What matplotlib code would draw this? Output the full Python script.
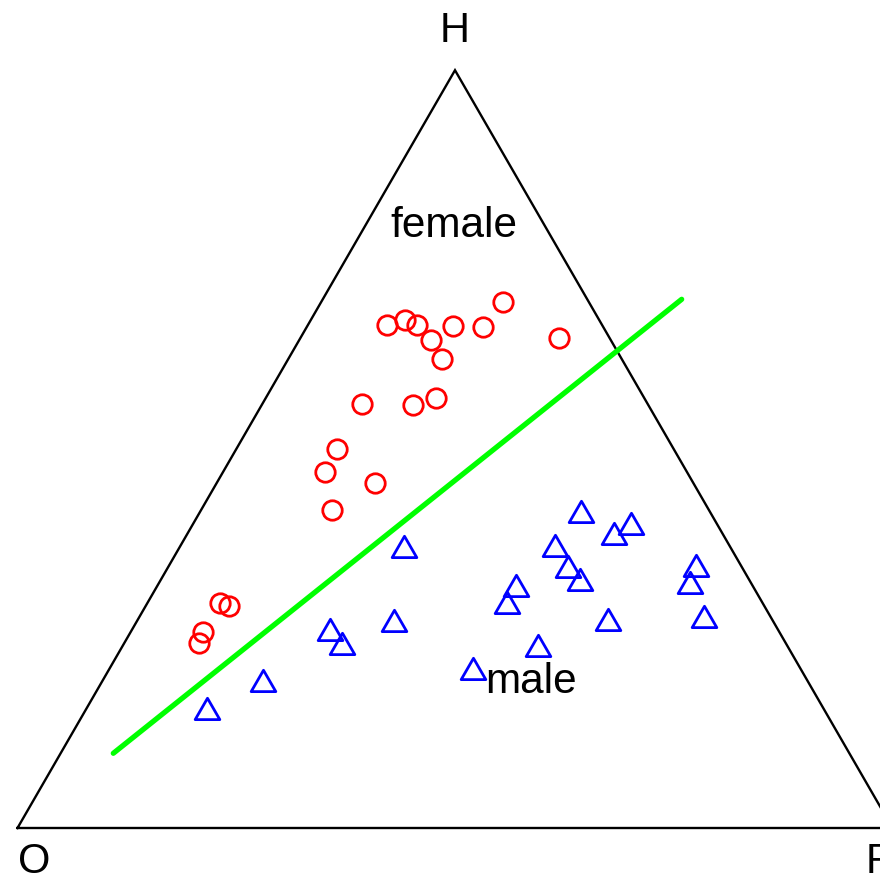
import numpy as np
import matplotlib
matplotlib.use("Agg")
import matplotlib.pyplot as plt
from matplotlib.path import Path

plt.rcParams['font.family'] = ['Liberation Sans', 'DejaVu Sans']

# compositions (O, F, H) for each specimen
female_O = [0.2462, 0.2219, 0.2112, 0.1711, 0.1379, 0.0985, 0.0580, 0.2058, 0.2056, 0.3262,
            0.2690, 0.2376, 0.3852, 0.4137, 0.3639, 0.4309, 0.6200, 0.6114, 0.6582, 0.6704]
female_F = [0.0900, 0.1077, 0.1250, 0.1660, 0.2013, 0.2074, 0.2958, 0.1502, 0.1751, 0.1143,
            0.1724, 0.1949, 0.1147, 0.1165, 0.1804, 0.1498, 0.0827, 0.0956, 0.0828, 0.0859]
female_H = [0.6638, 0.6704, 0.6638, 0.6629, 0.6608, 0.6941, 0.6462, 0.6440, 0.6193, 0.5595,
            0.5586, 0.5675, 0.5001, 0.4698, 0.4557, 0.4193, 0.2973, 0.2930, 0.2590, 0.2437]

male_O = [0.7070, 0.6248, 0.3742, 0.5143, 0.5098, 0.4351, 0.3766, 0.1501, 0.1003, 0.1263,
          0.2015, 0.2000, 0.1955, 0.2724, 0.2941, 0.1898, 0.2867, 0.0535, 0.0714, 0.0777]
male_F = [0.1393, 0.1852, 0.2584, 0.2284, 0.2507, 0.2963, 0.4169, 0.4375, 0.5025, 0.4897,
          0.4307, 0.4591, 0.4814, 0.4126, 0.4123, 0.5401, 0.4771, 0.6052, 0.6086, 0.6477]
male_H = [0.1537, 0.1900, 0.3674, 0.2573, 0.2395, 0.2686, 0.2065, 0.4124, 0.3972, 0.3840,
          0.3678, 0.3409, 0.3231, 0.3150, 0.2936, 0.2701, 0.2362, 0.3413, 0.3200, 0.2745]

# discriminant line end points (O, F, H)
line_O = [0.8412, -0.1079]
line_F = [0.0602, 0.4102]
line_H = [0.0986, 0.6977]

corner_labels = ["O", "F", "H"]
group_labels = ["female", "male"]


def tern_xy(o, f, h):
    o, f, h = np.asarray(o), np.asarray(f), np.asarray(h)
    s = o + f + h
    f, h = f / s, h / s
    return f + h / 2, h * np.sqrt(3) / 2


# triangle marker centred on its centroid
tri = Path([(0, 1), (-0.866, -0.5), (0.866, -0.5), (0, 1)],
           [Path.MOVETO, Path.LINETO, Path.LINETO, Path.CLOSEPOLY])

fig = plt.figure(figsize=(8.8, 8.76), dpi=100)
ax = fig.add_axes([0, 0, 1, 1])
ax.set_xlim(-0.02, 0.985714)
ax.set_ylim(-0.054857, 0.946286)
ax.axis("off")

# frame
vx, vy = tern_xy([1, 0, 0, 1], [0, 1, 0, 0], [0, 0, 1, 0])
ax.plot(vx, vy, color="black", lw=1.7, solid_joinstyle="miter", clip_on=False)

x, y = tern_xy(female_O, female_F, female_H)
ax.plot(x, y, "o", ms=14, mfc="none", mec="#ff0000", mew=2.0)

x, y = tern_xy(male_O, male_F, male_H)
ax.plot(x, y, ls="none", marker=tri, ms=20.5, mfc="none", mec="#0000ff", mew=2.0)

lx, ly = tern_xy(line_O, line_F, line_H)
ax.plot(lx, ly, color="#00ff00", lw=3.8, solid_capstyle="round")

ax.text(0.0185, -0.0518, corner_labels[0], fontsize=30, ha="center", va="baseline")
ax.text(0.9843, -0.0518, corner_labels[1], fontsize=30, ha="center", va="baseline", clip_on=False)
ax.text(0.4992, 0.8986, corner_labels[2], fontsize=30, ha="center", va="baseline")
ax.text(0.4989, 0.6758, group_labels[0], fontsize=30.5, ha="center", va="baseline")
ax.text(0.5874, 0.1543, group_labels[1], fontsize=30.5, ha="center", va="baseline")

fig.savefig("out.png", dpi=100)
